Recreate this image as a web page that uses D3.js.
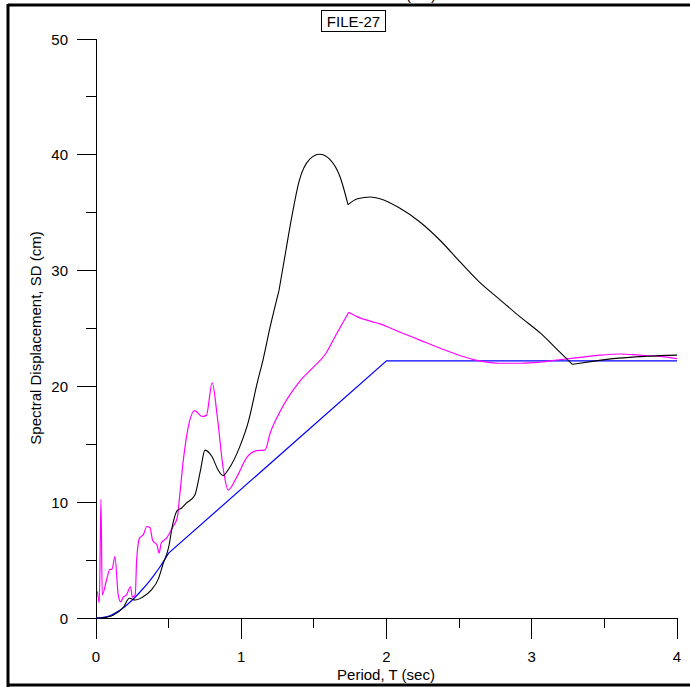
<!DOCTYPE html>
<html><head><meta charset="utf-8">
<script src="https://cdn.jsdelivr.net/npm/d3@7"></script>
<style>body{margin:0;background:#fff}svg{display:block}text{font-family:"Liberation Sans",Arial,sans-serif;fill:#000}</style>
</head><body><svg id="c" width="690" height="687"></svg>
<script>
const xTicks=[0,1,2,3,4];
const yTicks=[0,10,20,30,40,50];
const chartTitle="FILE-27";
const xLabel="Period, T (sec)";
const yLabel="Spectral Displacement, SD (cm)";

const blueT=[0,0.05,0.1,0.15,0.2,0.25,0.3,0.35,0.4,0.45,0.5,2.0,4.0];
const blueSD=[0,0.06,0.22,0.55,1.0,1.55,2.2,2.9,3.7,4.6,5.6,22.2,22.2];

const blackT=[0,0.05,0.08,0.12,0.19,0.23,0.27,0.32,0.38,0.43,0.46,0.5,0.53,0.56,0.59,0.62,0.68,0.72,0.75,0.8,0.84,0.875,0.91,0.99,1.05,1.11,1.15,1.2,1.26,1.3,1.34,1.4,1.47,1.54,1.61,1.68,1.735,1.8,1.89,1.955,2.09,2.23,2.37,2.51,2.64,2.78,2.92,3.06,3.19,3.28,3.33,3.56,3.79,4.0];
const blackSD=[0,0.02,0.08,0.26,0.95,1.7,1.55,1.8,2.4,3.4,4.6,6.1,8.2,9.3,9.5,9.9,10.6,12.8,14.5,13.9,12.8,12.3,12.8,14.8,17.0,20.3,22.3,25.2,28.3,31.2,34.1,37.8,39.6,40.05,39.6,38.1,35.7,36.2,36.35,36.2,35.4,34.2,32.6,30.7,29.0,27.5,26.0,24.6,23.0,21.9,22.0,22.4,22.6,22.7];

const magT=[0.01,0.023,0.034,0.043,0.073,0.096,0.11,0.13,0.153,0.17,0.188,0.21,0.238,0.25,0.27,0.28,0.3,0.326,0.35,0.372,0.39,0.42,0.434,0.45,0.486,0.53,0.56,0.578,0.6,0.62,0.68,0.73,0.76,0.8,0.835,0.877,0.91,0.97,1.04,1.106,1.163,1.2,1.27,1.4,1.5,1.58,1.65,1.74,1.8,1.9,1.955,2.09,2.23,2.37,2.51,2.64,2.78,2.92,3.06,3.19,3.33,3.47,3.61,3.74,3.88,4.0];
const magSD=[2.3,1.3,10.25,2.0,3.3,4.2,4.2,5.3,2.0,1.4,1.8,2.0,2.7,1.8,2.0,5.0,6.9,7.2,7.9,7.8,6.7,6.3,5.6,6.5,6.9,7.9,8.7,10.8,13.5,15.4,17.9,17.4,17.5,20.3,17.4,12.8,11.05,12.2,13.9,14.45,14.5,16.0,17.9,20.4,21.7,22.8,24.4,26.4,26.0,25.6,25.4,24.7,24.0,23.3,22.65,22.2,22.0,22.0,22.1,22.3,22.5,22.7,22.8,22.7,22.6,22.4];

const svg=d3.select("#c");
const x=d3.scaleLinear().domain([0,4]).range([96,677]);
const y=d3.scaleLinear().domain([0,50]).range([618,39]);
const FS=15;

// frame
svg.append("line").attr("x1",8).attr("x2",690).attr("y1",5).attr("y2",5).attr("stroke","#000").attr("stroke-width",3);
svg.append("line").attr("x1",8).attr("x2",8).attr("y1",4).attr("y2",687).attr("stroke","#000").attr("stroke-width",3);
svg.append("line").attr("x1",7).attr("x2",690).attr("y1",685).attr("y2",685).attr("stroke","#000").attr("stroke-width",3);
svg.append("text").attr("x",436).attr("y",0).attr("text-anchor","end").attr("font-size",FS).text("SD (cm)");

// title box
const tb=svg.append("g");
tb.append("rect").attr("x",321.5).attr("y",10.5).attr("width",64).attr("height",21).attr("fill","#fff").attr("stroke","#000").attr("stroke-width",1);
tb.append("text").attr("x",353.5).attr("y",26.5).attr("text-anchor","middle").attr("font-size",FS).text(chartTitle);

// axes
const yMinor=d3.range(5,50,10);
const xMinor=d3.range(0.5,4,1);
const axes=svg.append("g").attr("stroke","#000").attr("stroke-width",1).attr("shape-rendering","crispEdges");
axes.append("line").attr("x1",x(0)).attr("x2",x(0)).attr("y1",y(50)).attr("y2",y(0)+21);
axes.append("line").attr("x1",x(0)-19).attr("x2",x(4)).attr("y1",y(0)).attr("y2",y(0));
yTicks.forEach(v=>axes.append("line").attr("x1",x(0)-19).attr("x2",x(0)).attr("y1",y(v)).attr("y2",y(v)));
yMinor.forEach(v=>axes.append("line").attr("x1",x(0)-10).attr("x2",x(0)).attr("y1",y(v)).attr("y2",y(v)));
xTicks.forEach(v=>axes.append("line").attr("x1",x(v)).attr("x2",x(v)).attr("y1",y(0)).attr("y2",y(0)+21));
xMinor.forEach(v=>axes.append("line").attr("x1",x(v)).attr("x2",x(v)).attr("y1",y(0)).attr("y2",y(0)+10));

svg.selectAll(".yl").data(yTicks).enter().append("text").attr("x",68).attr("y",v=>y(v)+5.5).attr("text-anchor","end").attr("font-size",FS).text(d=>d);
svg.selectAll(".xl").data(xTicks).enter().append("text").attr("x",v=>x(v)).attr("y",662).attr("text-anchor","middle").attr("font-size",FS).text(d=>d);
svg.append("text").attr("x",386).attr("y",679.5).attr("text-anchor","middle").attr("font-size",FS).text(xLabel);
svg.append("text").attr("transform","translate(40.5,338) rotate(-90)").attr("text-anchor","middle").attr("font-size",FS).text(yLabel);

// curves (split at kinks so the smoothing keeps the corners)
const line=d3.line().x(d=>x(d[0])).y(d=>y(d[1])).curve(d3.curveMonotoneX);
const lineLin=d3.line().x(d=>x(d[0])).y(d=>y(d[1]));
function pieces(T,V,breaks){
  const pts=d3.zip(T,V);const out=[];let cur=[];
  pts.forEach(p=>{cur.push(p);if(breaks.includes(p[0])){out.push(cur);cur=[p];}});
  if(cur.length>1)out.push(cur);return out;
}
const blue=d3.zip(blueT,blueSD);
svg.append("path").attr("d",line(blue.slice(0,11))+lineLin(blue.slice(10)).replace("M","L")).attr("fill","none").attr("stroke","#0000ff").attr("stroke-width",1.2);
pieces(magT,magSD,[1.74]).forEach(p=>svg.append("path").attr("d",line(p)).attr("fill","none").attr("stroke","#ff00ff").attr("stroke-width",1.2));
pieces(blackT,blackSD,[1.26,1.735,3.28]).forEach(p=>svg.append("path").attr("d",line(p)).attr("fill","none").attr("stroke","#000").attr("stroke-width",1.1));
</script></body></html>
